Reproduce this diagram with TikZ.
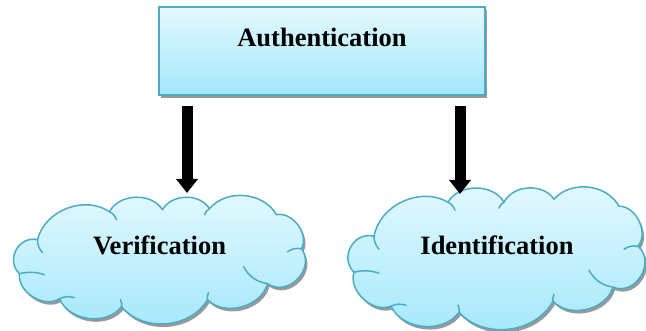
\documentclass[tikz,border=0pt]{standalone}
\usepackage{fontspec}
\setmainfont{Liberation Serif}
\usetikzlibrary{positioning, shadows, arrows.meta, backgrounds}

\definecolor{aqualine}{HTML}{4BACC6}
\definecolor{aquatop}{HTML}{E4F9FF}
\definecolor{aquabot}{HTML}{A3E8FB}

\tikzset{
  aqua/.style={draw=aqualine, top color=aquatop, bottom color=aquabot,
    drop shadow={shadow xshift=2pt, shadow yshift=-3pt, fill=black!40, opacity=1}},
  label font/.style={font=\fontsize{26.5pt}{30pt}\selectfont\bfseries,
    text height=18pt},
  topbox/.style={aqua, label font, rectangle, line width=2pt,
    minimum width=326pt, minimum height=88pt},
  cloudtext/.style={label font, inner sep=0pt},
  puff/.style={aqua, line width=1.5pt, line join=round},
  crease/.style={draw=aqualine, line width=1.5pt, line cap=round},
  downarrow/.style={line width=11pt, -{Triangle[width=21pt,length=14pt]}}
}

\begin{document}
\begin{tikzpicture}[x=1pt, y=1pt]
\useasboundingbox (0,0) rectangle (646,331);

\node[topbox, text depth=26pt] (auth) at (322,280) {Authentication};
\node[cloudtext, minimum width=295pt, minimum height=127pt, text depth=29pt,
    below=100pt of auth.south west, xshift=1.5pt] (verif) {Verification};
\node[cloudtext, minimum width=301pt, minimum height=142pt, text depth=24pt,
    below=90pt of auth.south east, xshift=11pt] (ident) {Identification};

% cloud outlines behind the labels
\begin{scope}[on background layer, shift={(verif.center)}]
  \path[puff] (-122,20) to[bend left=55] (-50,48) to[bend left=60] (3,50)
    to[bend left=60] (50,51) to[bend left=55] (117,45) to[bend left=65] (142,11)
    to[bend left=80, looseness=1.3] (108,-24) to[bend left=60] (48,-40)
    to[bend left=55] (-38,-47) to[bend left=60] (-100,-39)
    to[bend left=65] (-140,-14) to[bend left=75, looseness=1.3] cycle;
  \draw[crease] (-122,20) to[bend right=20] ++(5,-13);
  \draw[crease] (-50,48) to[bend left=20] ++(7,-8);
  \draw[crease] (50,51) to[bend right=20] ++(-5,-6);
  \draw[crease] (142,11) to[bend right=20] ++(-14,-3);
  \draw[crease] (108,-24) to[bend left=25] ++(-24,17);
  \draw[crease] (48,-40) to[bend left=15] ++(1,7);
  \draw[crease] (-38,-47) to[bend right=15] ++(-1,7);
  \draw[crease] (-100,-39) to[bend left=20] ++(15,1);
  \draw[crease] (-140,-14) to[bend left=15] ++(25,-1);
\end{scope}
\begin{scope}[on background layer, shift={(ident.center)}]
  \path[puff] (-123,21) to[bend left=55] (-49,55) to[bend left=60] (7,55)
    to[bend left=60] (57,58) to[bend left=55] (122,51) to[bend left=65] (141,11)
    to[bend left=80, looseness=1.3] (116,-30) to[bend left=60] (56,-44)
    to[bend left=55] (-38,-55) to[bend left=60] (-106,-49)
    to[bend left=65] (-143,-15) to[bend left=75, looseness=1.3] cycle;
  \draw[crease] (-123,21) to[bend right=20] ++(5,-13);
  \draw[crease] (-49,55) to[bend left=20] ++(7,-8);
  \draw[crease] (7,55) to[bend right=20] ++(-5,-6);
  \draw[crease] (141,11) to[bend right=20] ++(-14,-3);
  \draw[crease] (116,-30) to[bend left=25] ++(-24,17);
  \draw[crease] (56,-44) to[bend left=15] ++(1,7);
  \draw[crease] (-38,-55) to[bend right=15] ++(-1,7);
  \draw[crease] (-106,-49) to[bend left=20] ++(15,1);
  \draw[crease] (-143,-15) to[bend left=15] ++(25,-1);
\end{scope}

\draw
    ([xshift=29pt,yshift=-10pt]auth.south west)
        edge[downarrow, shorten >=3pt] ([xshift=29pt]auth.south west |- verif.north)
    ([xshift=-26pt,yshift=-10pt]auth.south east)
        edge[downarrow, shorten >=-8pt] ([xshift=-26pt]auth.south east |- ident.north);
\end{tikzpicture}
\end{document}
